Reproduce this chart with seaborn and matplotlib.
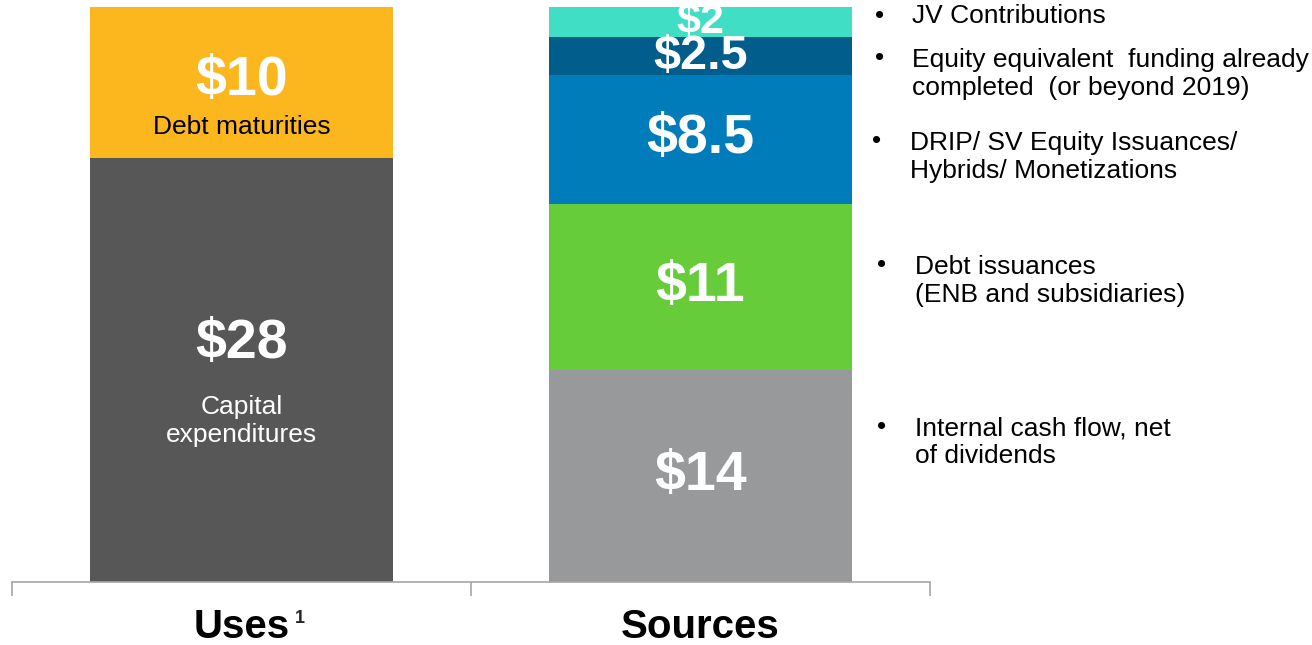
import matplotlib
matplotlib.use("Agg")
import matplotlib.pyplot as plt
import seaborn as sns
import numpy as np
import pandas as pd

# data (billions, $)
categories = ["Uses", "Sources"]
uses_labels = ["Capital expenditures", "Debt maturities"]
uses_values = [28, 10]
uses_colors = ["#575757", "#FDB71E"]
sources_labels = ["Internal cash flow", "Debt issuances", "DRIP/SV Equity", "Equity equivalent", "JV Contributions"]
sources_values = [14, 11, 8.5, 2.5, 2]
sources_colors = ["#97999B", "#66CC3A", "#007CBA", "#005D8C", "#40DEC4"]
value_text_uses = ["$28", "$10"]
value_text_sources = ["$14", "$11", "$8.5", "$2.5", "$2"]

sns.set_theme(style="white")
plt.rcParams["font.family"] = ["Liberation Sans", "DejaVu Sans"]

fig = plt.figure(figsize=(13.12, 6.45), dpi=100)
ax = fig.add_axes([12 / 1312, (645 - 582) / 645, 918 / 1312, 575 / 645])

# build the segments, stacked via cumulative tops drawn from the top down
rows = []
for cat, vals, cols, txts in [("Uses", uses_values, uses_colors, value_text_uses),
                              ("Sources", sources_values, sources_colors, value_text_sources)]:
    tops = np.cumsum(vals)
    for v, top, c, t in zip(vals, tops, cols, txts):
        rows.append({"cat": cat, "value": v, "top": top, "bottom": top - v, "color": c, "text": t})
df = pd.DataFrame(rows)

for _, r in df.sort_values("top", ascending=False).iterrows():
    sns.barplot(x=[r["cat"]], y=[r["top"]], order=categories, color=r["color"],
                width=0.66, saturation=1, linewidth=0, ax=ax)

ax.set_ylim(0, 38)
ax.set_xlim(-0.5, 1.5)
ax.set_ylabel("")
ax.set_xlabel("")
ax.set_yticks([])
for s in ["top", "left", "right"]:
    ax.spines[s].set_visible(False)
ax.spines["bottom"].set_color("#A6A6A6")
ax.spines["bottom"].set_linewidth(1.2)

ax.set_xticks([0, 1])
ax.set_xticklabels(["Uses", "Sources"], fontsize=29, fontweight="bold", color="black")
ax.tick_params(axis="x", which="major", length=0, pad=19)
ax.set_xticks([-0.5, 0.5, 1.5], minor=True)
ax.tick_params(axis="x", which="minor", length=10, color="#A6A6A6", width=1.2, bottom=True)
ax.text(0.128, -0.064, "1", transform=ax.get_xaxis_transform(), fontsize=13,
        fontweight="bold", ha="center", va="center", clip_on=False)

# value labels
for _, r in df.iterrows():
    xi = categories.index(r["cat"])
    mid = (r["top"] + r["bottom"]) / 2
    size = 40
    if r["cat"] == "Uses":
        mid = 15.7 if r["value"] == 28 else 33.1
    if r["value"] == 2.5:
        size = 35
    if r["value"] == 2:
        size = 31
    ax.text(xi, mid, r["text"], ha="center", va="center", color="white",
            fontsize=size, fontweight="bold")

ax.text(0, 30.1, "Debt maturities", ha="center", va="center", fontsize=19, color="black")
ax.text(0, 10.65, "Capital\nexpenditures", ha="center", va="center", fontsize=19,
        color="white", linespacing=1.2)

# bullet notes on the right
notes = [
    (912, 16, "JV Contributions"),
    (912, 74, "Equity equivalent  funding already\ncompleted  (or beyond 2019)"),
    (910, 157, "DRIP/ SV Equity Issuances/\nHybrids/ Monetizations"),
    (915, 281, "Debt issuances\n(ENB and subsidiaries)"),
    (915, 442, "Internal cash flow, net\nof dividends"),
]
bullet_y = [16, 58, 141, 265, 427]
bullet_x = [880, 880, 877, 882, 882]
for (x, y, t), by, bx in zip(notes, bullet_y, bullet_x):
    fig.text(x / 1312, 1 - y / 645, t, ha="left", va="center", fontsize=19,
             color="black", linespacing=1.2)
    fig.text(bx / 1312, 1 - by / 645, "•", ha="center", va="center", fontsize=19, color="black")

fig.savefig("out.png", dpi=100)
